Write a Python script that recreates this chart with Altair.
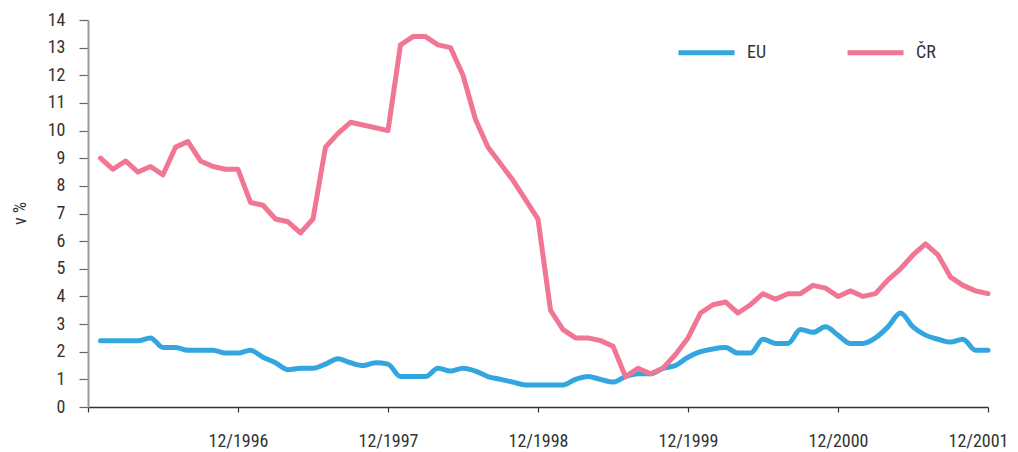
import altair as alt
import pandas as pd

# months since 12/1995 (1 = 1/1996 ... 72 = 12/2001)
month_index = list(range(1, 73))

eu = [2.4, 2.4, 2.4, 2.4, 2.5, 2.15, 2.15, 2.05, 2.05, 2.05, 1.95, 1.95,
      2.05, 1.8, 1.6, 1.35, 1.4, 1.4, 1.55, 1.75, 1.6, 1.5, 1.6, 1.55,
      1.1, 1.1, 1.1, 1.4, 1.3, 1.4, 1.3, 1.1, 1.0, 0.9, 0.8, 0.8,
      0.8, 0.8, 1.0, 1.1, 1.0, 0.9, 1.1, 1.2, 1.2, 1.4, 1.5, 1.8,
      2.0, 2.1, 2.15, 1.95, 1.95, 2.45, 2.3, 2.3, 2.8, 2.7, 2.9, 2.6,
      2.3, 2.3, 2.5, 2.9, 3.4, 2.9, 2.6, 2.45, 2.35, 2.45, 2.05, 2.05]

cr = [9.0, 8.6, 8.9, 8.5, 8.7, 8.4, 9.4, 9.6, 8.9, 8.7, 8.6, 8.6,
      7.4, 7.3, 6.8, 6.7, 6.3, 6.8, 9.4, 9.9, 10.3, 10.2, 10.1, 10.0,
      13.1, 13.4, 13.4, 13.1, 13.0, 12.0, 10.4, 9.4, 8.8, 8.2, 7.5, 6.8,
      3.5, 2.8, 2.5, 2.5, 2.4, 2.2, 1.1, 1.4, 1.2, 1.4, 1.9, 2.5,
      3.4, 3.7, 3.8, 3.4, 3.7, 4.1, 3.9, 4.1, 4.1, 4.4, 4.3, 4.0,
      4.2, 4.0, 4.1, 4.6, 5.0, 5.5, 5.9, 5.5, 4.7, 4.4, 4.2, 4.1]

series = ["EU", "ČR"]
colors = ["#33A6DF", "#F07693"]
x_ticks = [0, 12, 24, 36, 48, 60, 72]
y_ticks = list(range(0, 15))

df = pd.DataFrame({
    "m": month_index * 2,
    "v": eu + cr,
    "s": [series[0]] * len(eu) + [series[1]] * len(cr),
})

FONT = "Liberation Sans Narrow, Roboto Condensed, Open Sans, sans-serif"

x = alt.X("m:Q",
          scale=alt.Scale(domain=[0, 72], nice=False, zero=False),
          axis=alt.Axis(values=x_ticks, title=None, grid=False, labelFlush=False,
                        labelExpr="datum.value == 0 ? '' : '12/' + (1995 + datum.value/12)",
                        labelOffset={"condition": {"test": "datum.value == 72", "value": -10}, "value": 0},
                        tickSize=5, labelPadding=20, domainColor="#333333",
                        tickColor="#333333", domainWidth=1.5, tickWidth=1.2,
                        labelFontSize=18, labelColor="#333333", labelFont=FONT))
y = alt.Y("v:Q",
          scale=alt.Scale(domain=[0, 14], nice=False),
          axis=alt.Axis(values=y_ticks, title="v %", grid=False,
                        tickSize=9, labelPadding=14, domainColor="#999999",
                        tickColor="#666666", domainWidth=2, tickWidth=1.2,
                        labelFontSize=18, labelColor="#333333", labelFont=FONT,
                        titleFont=FONT, titleFontSize=18, titleFontWeight="normal",
                        titleColor="#333333", titleX=-68, titleY=193,
                        titleAlign="center", titleBaseline="middle"))
color = alt.Color("s:N",
                  scale=alt.Scale(domain=series, range=colors),
                  legend=alt.Legend(title=None, orient="none", legendX=588, legendY=2,
                                    direction="horizontal", symbolType="stroke",
                                    symbolSize=3136, symbolStrokeWidth=5,
                                    labelFontSize=18, labelFont=FONT, labelColor="#333333",
                                    labelOffset=10, columnPadding=70))

base = alt.Chart(df).encode(x=x, y=y, color=color)
eu_line = base.transform_filter(alt.datum.s == "EU").mark_line(
    strokeWidth=5, interpolate="monotone", strokeCap="round", strokeJoin="round")
cr_line = base.transform_filter(alt.datum.s == "ČR").mark_line(
    strokeWidth=5, strokeCap="round", strokeJoin="round")

chart = alt.layer(eu_line, cr_line).properties(
    width=900, height=387,
    autosize=alt.AutoSizeParams(type="none"),
    padding={"left": 80, "top": 12, "right": 22, "bottom": 45},
).configure_view(stroke=None)

chart.save("out.html", embed_options={"renderer": "svg", "actions": False})
